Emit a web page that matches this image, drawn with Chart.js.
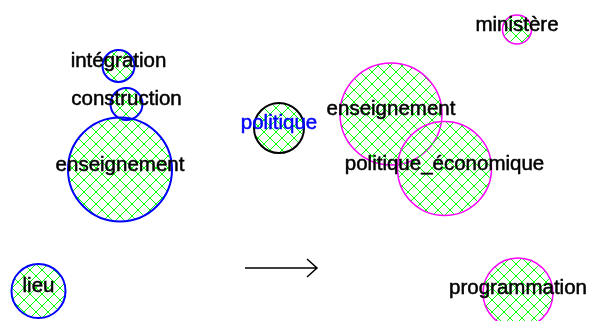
<!DOCTYPE html>
<html>
<head>
<meta charset="utf-8">
<script src="https://cdn.jsdelivr.net/npm/chart.js@4/dist/chart.umd.min.js"></script>
<style>
html,body{margin:0;padding:0;background:#fff;overflow:hidden;}
#wrap{width:591px;height:321px;position:relative;}
</style>
</head>
<body>
<div id="wrap"><canvas id="c" width="591" height="321"></canvas></div>
<script>
// ---- data ----
const leftTerms  = ['intégration', 'construction', 'enseignement', 'lieu'];
const leftX      = [118.5, 126.5, 120, 38.5];
const leftY      = [66, 104, 169.5, 291];
const leftSize   = [16, 16, 52, 27];

const midTerms   = ['politique'];
const midX       = [279];
const midY       = [128];
const midSize    = [25];

const rightTerms = ['enseignement', 'politique_économique', 'ministère', 'programmation'];
const rightX     = [391, 444.5, 517, 518];
const rightY     = [114, 168.5, 29.5, 293];
const rightSize  = [51, 47, 14.5, 35];

const xRange = [0, 591];
const yRange = [0, 321];
const arrowFrom = [245, 268];
const arrowTo   = [317, 268];

// ---- hatch pattern ----
function hatch() {
  const s = 12;
  const p = document.createElement('canvas');
  p.width = s; p.height = s;
  const g = p.getContext('2d');
  g.fillStyle = '#00ff00';
  for (let i = 0; i < s; i++) {
    g.fillRect(i, i, 1, 1);
    g.fillRect(s - 1 - i, i, 1, 1);
  }
  return g.createPattern(p, 'repeat');
}
const ctx = document.getElementById('c').getContext('2d');
const pat = hatch();

function pts(xs, ys, rs) { return xs.map((x, i) => ({x: x, y: ys[i], r: rs[i]})); }

const labelPlugin = {
  id: 'labels',
  afterDatasetsDraw(chart) {
    const c = chart.ctx;
    c.save();
    c.font = '20.5px "Liberation Sans", Arial, sans-serif';
    c.textAlign = 'center';
    c.textBaseline = 'alphabetic';
    c.lineWidth = 0.5;
    chart.data.datasets.forEach((ds, di) => {
      const meta = chart.getDatasetMeta(di);
      c.fillStyle = ds.labelColor;
      c.strokeStyle = ds.labelColor;
      meta.data.forEach((el, j) => {
        c.fillText(ds.terms[j], el.x, el.y + 1);
        c.strokeText(ds.terms[j], el.x, el.y + 1);
      });
    });
    // arrow
    const xs = chart.scales.x, ys = chart.scales.y;
    const x0 = xs.getPixelForValue(arrowFrom[0]), y0 = ys.getPixelForValue(arrowFrom[1]);
    const x1 = xs.getPixelForValue(arrowTo[0]), y1 = ys.getPixelForValue(arrowTo[1]);
    c.strokeStyle = '#000';
    c.lineWidth = 1.5;
    c.beginPath();
    c.moveTo(x0, y0); c.lineTo(x1, y1);
    c.moveTo(x1 - 10, y1 - 9); c.lineTo(x1, y1); c.lineTo(x1 - 10, y1 + 9);
    c.stroke();
    c.restore();
  }
};

new Chart(ctx, {
  type: 'bubble',
  data: {
    datasets: [
      {terms: leftTerms, labelColor: '#000000', data: pts(leftX, leftY, leftSize),
       backgroundColor: pat, borderColor: '#0000ff', borderWidth: 2, clip: false},
      {terms: midTerms, labelColor: '#0000ff', data: pts(midX, midY, midSize),
       backgroundColor: pat, borderColor: '#000000', borderWidth: 2, clip: false},
      {terms: rightTerms, labelColor: '#000000', data: pts(rightX, rightY, rightSize),
       backgroundColor: pat, borderColor: '#ff00ff', borderWidth: 1.5, clip: false}
    ]
  },
  options: {
    responsive: false,
    animation: false,
    events: [],
    layout: {padding: 0, autoPadding: false},
    plugins: {legend: {display: false}, tooltip: {enabled: false}},
    scales: {
      x: {type: 'linear', display: false, min: xRange[0], max: xRange[1]},
      y: {type: 'linear', display: false, min: yRange[0], max: yRange[1], reverse: true}
    }
  },
  plugins: [labelPlugin]
});
</script>
</body>
</html>
